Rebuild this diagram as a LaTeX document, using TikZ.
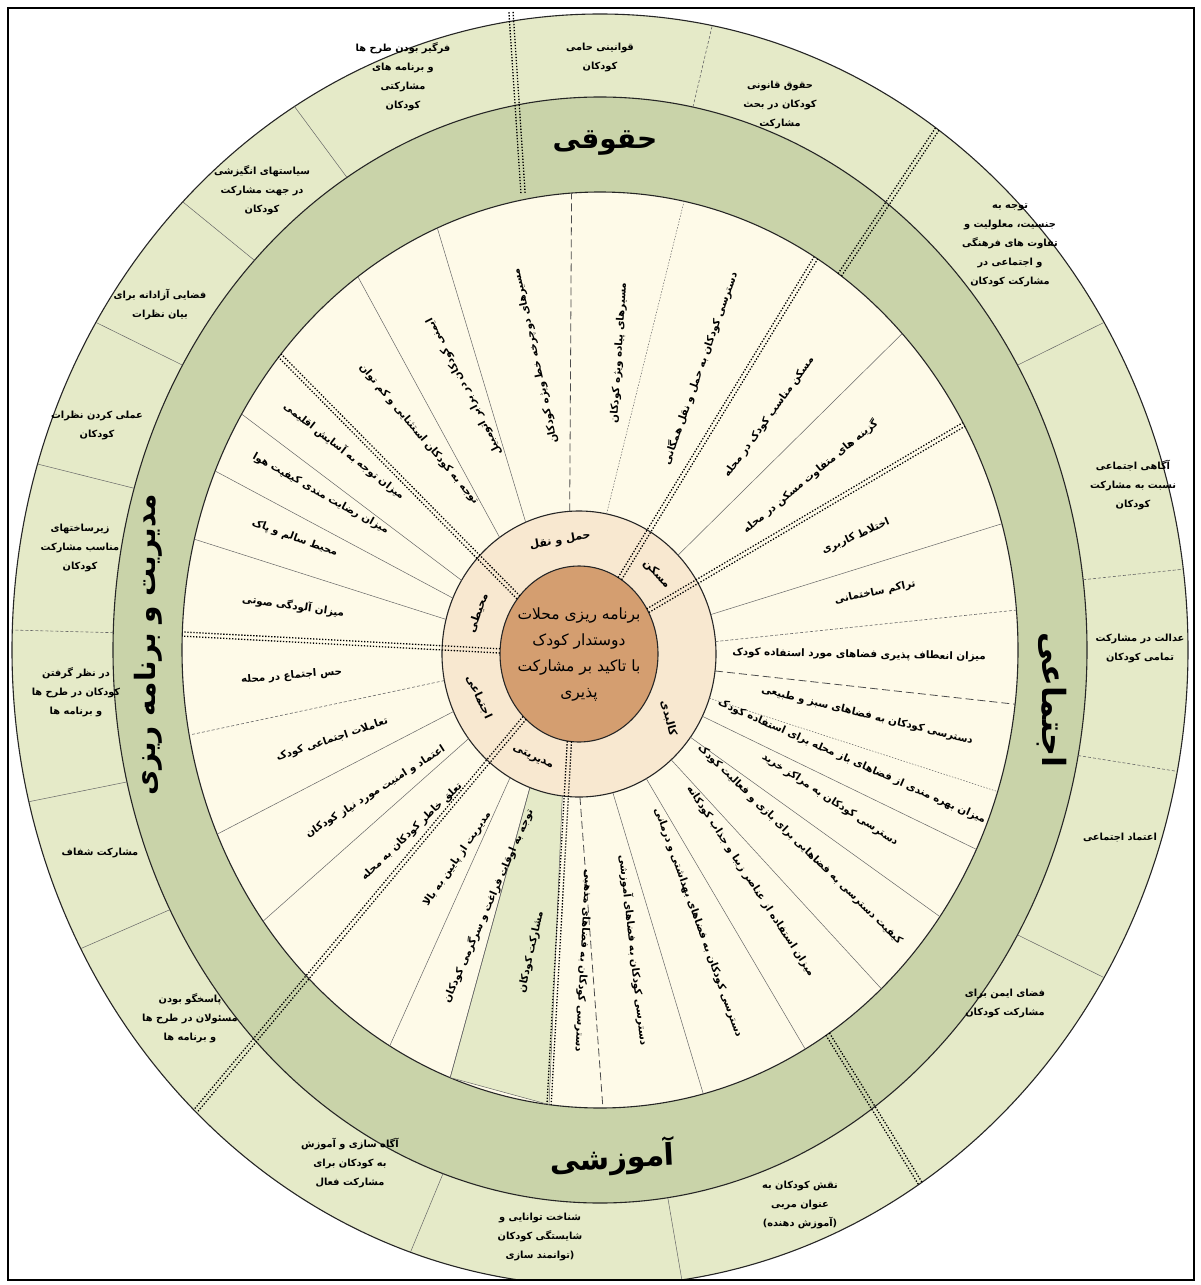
\documentclass[tikz,border=0pt]{standalone}
\usepackage{fontspec}
\usetikzlibrary{calc}
\TeXXeTstate=1
\newfontfamily\arabicfont[Script=Arabic]{DejaVu Sans}
\newcommand{\fa}[1]{{\arabicfont #1}}
\definecolor{outerg}{HTML}{E5EAC8}
\definecolor{darkg}{HTML}{C9D3A9}
\definecolor{creamc}{HTML}{FEFAE8}
\definecolor{tanr}{HTML}{F8E8D0}
\definecolor{brownc}{HTML}{D49E70}
\tikzset{
 ringedge/.style={draw=black!85, line width=1.1pt},
 thinline/.style={draw=black!60, line width=0.5pt},
 dashline/.style={draw=black!60, line width=0.6pt, dash pattern=on 3pt off 2pt},
 longdash/.style={draw=black!70, line width=0.8pt, dash pattern=on 8pt off 4pt},
 fineline/.style={draw=black!60, line width=0.5pt, dash pattern=on 1.5pt off 1.5pt},
 ddot/.style={draw=black, line width=1.3pt, dash pattern=on 1.3pt off 1.7pt},
 ctxt/.style={font=\bfseries\fontsize{10.3}{12}\selectfont, inner sep=0pt},
 otxt/.style={font=\bfseries\fontsize{9.8}{19}\selectfont, align=center, inner sep=0pt},
 biglabel/.style={font=\bfseries\fontsize{28}{30}\selectfont, inner sep=0pt},
 tanlabel/.style={font=\bfseries\fontsize{11}{12}\selectfont, inner sep=0pt},
 centertxt/.style={font=\fontsize{15.5}{26}\selectfont, align=center, inner sep=0pt},
}
\newcommand{\crl}[2]{\draw[#2] ($(Ci)+({137*cos(#1)},{143*sin(#1)})$) -- ($(C)+({418*cos(#1)},{458*sin(#1)})$);}
\newcommand{\orl}[2]{\draw[#2] ($(C)+({487*cos(#1)},{553*sin(#1)})$) -- ($(C)+({588*cos(#1)},{636*sin(#1)})$);}
\newcommand{\ddl}[2]{%
 \coordinate (ddA) at #1; \coordinate (ddB) at #2;
 \draw[ddot] ($(ddA)!2.1pt!90:(ddB)$) -- ($(ddB)!2.1pt!-90:(ddA)$);
 \draw[ddot] ($(ddA)!2.1pt!-90:(ddB)$) -- ($(ddB)!2.1pt!90:(ddA)$);}
\newcommand{\ddcat}[1]{\ddl{($(Ci)+({79*cos(#1)},{88*sin(#1)})$)}{($(C)+({418*cos(#1)},{458*sin(#1)})$)}}
\newcommand{\ct}[4]{%
 \pgfmathsetmacro\ctang{atan2(458*sin(#1),418*cos(#1))-180*#3}
 \node[ctxt, rotate=\ctang] at ($(C)+({#2*418*cos(#1)},{#2*458*sin(#1)})$) {\fa{#4}};}
\begin{document}
\begin{tikzpicture}[x=1pt,y=1pt]
\useasboundingbox (0,0) rectangle (1200,-1285);
\fill[white] (0,0) rectangle (1200,-1285);
\coordinate (C) at (600,-650);
\coordinate (Ci) at (579,-654);
\begin{scope}
\clip (8,-8) rectangle (1194,-1280);
\draw[ringedge, fill=outerg] (C) ellipse [x radius=588, y radius=636];
\draw[ringedge, fill=darkg] (C) ellipse [x radius=487, y radius=553];
\draw[ringedge, fill=creamc] (C) ellipse [x radius=418, y radius=458];
% green wedge
\draw[thinline, fill=outerg] ($(Ci)+({137*cos(249)},{143*sin(249)})$) -- ($(C)+({418*cos(249)},{458*sin(249)})$) -- ($(C)+({418*cos(263)},{458*sin(263)})$) -- ($(Ci)+({137*cos(263)},{143*sin(263)})$) -- cycle;
\draw[ringedge, fill=tanr] (Ci) ellipse [x radius=137, y radius=143];
\draw[ringedge, fill=brownc] (Ci) ellipse [x radius=79, y radius=88];
% outer ring dividers
\foreach \a/\s in {79/dashline, 31/thinline, 7.3/dashline, -11/dashline, -31/thinline, -82/thinline, -108.8/thinline, 208/thinline, 193.8/thinline, 178.2/dashline, 163/thinline, 149/thinline, 135.2/thinline, 121.3/thinline} {\orl{\a}{\s}}
% cream ring dividers
\foreach \a/\s in {93.9/longdash, 78.4/fineline, 43.7/thinline, 16/thinline, 5/dashline, -6.8/longdash, -18/fineline, -25.8/thinline, -35.6/thinline, -47.7/thinline, -60.6/thinline, -75.7/thinline, 270.4/longdash, 249/thinline, 239.8/thinline, 216.3/thinline, 203.7/thinline, 190.7/dashline, 166/thinline, 157/thinline, 149/thinline, 125.4/thinline, 112.9/thinline} {\crl{\a}{\s}}
% category double dotted lines
\ddcat{58.9}
\ddcat{29.5}
\ddcat{140}
\ddcat{178}
\ddcat{263}
\ddl{($(Ci)+({79*cos(226.5)},{88*sin(226.5)})$)}{($(C)+({588*cos(226.5)},{636*sin(226.5)})$)}
\ddl{($(C)+({418*cos(55)},{458*sin(55)})$)}{($(C)+({588*cos(55)},{636*sin(55)})$)}
\ddl{($(C)+({418*cos(-57)},{458*sin(-57)})$)}{($(C)+({588*cos(-57)},{636*sin(-57)})$)}
\ddl{(523,-193)}{(511,-12)}
\end{scope}
% cream ring texts
\ct{22}{0.66}{0}{\beginR اختلاط کاربری\endR}
\ct{10.8}{0.67}{0}{\beginR تراکم ساختمانی\endR}
\ct{-1}{0.62}{0}{\beginR میزان انعطاف پذیری فضاهای مورد استفاده کودک\endR}
\ct{-12.6}{0.655}{0}{\beginR دسترسی کودکان به فضاهای سبز و طبیعی\endR}
\ct{-22}{0.65}{0}{\beginR میزان بهره مندی از فضاهای باز محله برای استفاده کودک\endR}
\ct{-30.7}{0.64}{0}{\beginR دسترسی کودکان به مراکز خرید\endR}
\ct{-41.6}{0.64}{0}{\beginR کیفیت دسترسی به فضاهایی برای بازی و فعالیت کودک\endR}
\ct{-54.5}{0.62}{0}{\beginR میزان استفاده از عناصر زیبا و جذاب کودکانه\endR}
\ct{-68.5}{0.64}{0}{\beginR دسترسی کودکان به فضاهای بهداشتی و درمانی\endR}
\ct{-83}{0.66}{0}{\beginR دسترسی کودکان به فضاهای آموزشی\endR}
\ct{-93.4}{0.68}{0}{\beginR دسترسی کودکان به فضاهای مذهبی\endR}
\ct{37}{0.63}{0}{\beginR گزینه های متفاوت مسکن در محله\endR}
\ct{51.5}{0.65}{0}{\beginR مسکن مناسب کودک در محله\endR}
\ct{68.7}{0.66}{0}{\beginR دسترسی کودکان به حمل و نقل همگانی\endR}
\ct{86}{0.65}{0}{\beginR مسیرهای پیاده ویژه کودکان\endR}
\ct{103.5}{0.66}{0}{\beginR مسیرهای دوچرخه خط ویژه کودکان\endR}
\ct{119.5}{0.66}{0}{\beginR ایمنی کودکان در برابر اتومبیل\endR}
\ct{132.6}{0.64}{1}{\beginR توجه به کودکان استثنایی و کم توان\endR}
\ct{144.6}{0.75}{1}{\beginR میزان توجه به آسایش اقلیمی\endR}
\ct{153}{0.75}{1}{\beginR میزان رضایت مندی کیفیت هوا\endR}
\ct{161.5}{0.77}{1}{\beginR محیط سالم و پاک\endR}
\ct{172.5}{0.74}{1}{\beginR میزان آلودگی صوتی\endR}
\ct{184.4}{0.74}{1}{\beginR حس اجتماع در محله\endR}
\ct{197}{0.67}{1}{\beginR تعاملات اجتماعی کودک\endR}
\ct{210}{0.62}{1}{\beginR اعتماد و امنیت مورد نیاز کودکان\endR}
\ct{221.4}{0.6}{1}{\beginR تعلق خاطر کودکان به محله\endR}
\ct{233.2}{0.57}{1}{\beginR مدیریت از پایین به بالا\endR}
\ct{244.4}{0.62}{1}{\beginR توجه به اوقات فراغت و سرگرمی کودکان\endR}
\ct{256}{0.68}{1}{\beginR مشارکت کودکان\endR}
% tan ring labels
\node[tanlabel, rotate=10] (tl1) at ($(Ci)+({108*cos(100)},{115*sin(100)})$) {\fa{\beginR حمل و نقل\endR}};
\node[tanlabel, rotate=-48] (tl2) at ($(Ci)+({108*cos(44)},{115*sin(44)})$) {\fa{\beginR مسکن\endR}};
\node[tanlabel, rotate=-75] (tl3) at ($(Ci)+({108*cos(-34)},{115*sin(-34)})$) {\fa{\beginR کالبدی\endR}};
\node[tanlabel, rotate=-25] (tl4) at ($(Ci)+({108*cos(244.7)},{115*sin(244.7)})$) {\fa{\beginR مدیریتی\endR}};
\node[tanlabel, rotate=-65] (tl5) at ($(Ci)+({108*cos(202)},{115*sin(202)})$) {\fa{\beginR اجتماعی\endR}};
\node[tanlabel, rotate=70] (tl6) at ($(Ci)+({108*cos(159)},{115*sin(159)})$) {\fa{\beginR محیطی\endR}};
% center
\node[centertxt] (ctr) at (Ci) {\fa{\beginR برنامه ریزی محلات\endR}\\\fa{\beginR دوستدار کودک\endR}\\\fa{\beginR با تاکید بر مشارکت\endR}\\\fa{\beginR پذیری\endR}};
% dark ring labels
\node[biglabel] (bl1) at (605,-143) {\fa{\beginR حقوقی\endR}};
\node[biglabel, font=\bfseries\fontsize{32}{34}\selectfont, rotate=-90] (bl2) at (1052,-700) {\fa{\beginR اجتماعی\endR}};
\node[biglabel, font=\bfseries\fontsize{30}{32}\selectfont, rotate=3] (bl3) at (612,-1158) {\fa{\beginR آموزشی\endR}};
\node[biglabel, rotate=90] (bl4) at (148,-645) {\fa{\beginR مدیریت و برنامه ریزی\endR}};
% outer ring texts
\node[otxt] (o1) at (600,-57) {\fa{\beginR قوانینی حامی\endR}\\\fa{\beginR کودکان\endR}};
\node[otxt] (o2) at (780,-105) {\fa{\beginR حقوق قانونی\endR}\\\fa{\beginR کودکان در بحث\endR}\\\fa{\beginR مشارکت\endR}};
\node[otxt] (o3) at (1010,-245) {\fa{\beginR توجه به\endR}\\\fa{\beginR جنسیت، معلولیت و\endR}\\\fa{\beginR تفاوت های فرهنگی\endR}\\\fa{\beginR و اجتماعی در\endR}\\\fa{\beginR مشارکت کودکان\endR}};
\node[otxt] (o4) at (1133,-485) {\fa{\beginR آگاهی اجتماعی\endR}\\\fa{\beginR نسبت به مشارکت\endR}\\\fa{\beginR کودکان\endR}};
\node[otxt] (o5) at (1140,-648) {\fa{\beginR عدالت در مشارکت\endR}\\\fa{\beginR تمامی کودکان\endR}};
\node[otxt] (o6) at (1120,-838) {\fa{\beginR اعتماد اجتماعی\endR}};
\node[otxt] (o7) at (1005,-1003) {\fa{\beginR فضای ایمن برای\endR}\\\fa{\beginR مشارکت کودکان\endR}};
\node[otxt] (o8) at (800,-1205) {\fa{\beginR نقش کودکان به\endR}\\\fa{\beginR عنوان مربی\endR}\\\fa{\beginR (آموزش دهنده)\endR}};
\node[otxt] (o9) at (540,-1237) {\fa{\beginR شناخت توانایی و\endR}\\\fa{\beginR شایستگی کودکان\endR}\\\fa{\beginR (توانمند سازی\endR}};
\node[otxt] (o10) at (350,-1163) {\fa{\beginR آگاه سازی و آموزش\endR}\\\fa{\beginR به کودکان برای\endR}\\\fa{\beginR مشارکت فعال\endR}};
\node[otxt] (o11) at (190,-1018) {\fa{\beginR پاسخگو بودن\endR}\\\fa{\beginR مسئولان در طرح ها\endR}\\\fa{\beginR و برنامه ها\endR}};
\node[otxt] (o12) at (100,-853) {\fa{\beginR مشارکت شفاف\endR}};
\node[otxt] (o13) at (76,-692) {\fa{\beginR در نظر گرفتن\endR}\\\fa{\beginR کودکان در طرح ها\endR}\\\fa{\beginR و برنامه ها\endR}};
\node[otxt] (o14) at (80,-548) {\fa{\beginR زیرساختهای\endR}\\\fa{\beginR مناسب مشارکت\endR}\\\fa{\beginR کودکان\endR}};
\node[otxt] (o15) at (97,-425) {\fa{\beginR عملی کردن نظرات\endR}\\\fa{\beginR کودکان\endR}};
\node[otxt] (o16) at (160,-305) {\fa{\beginR فضایی آزادانه برای\endR}\\\fa{\beginR بیان نظرات\endR}};
\node[otxt] (o17) at (262,-190) {\fa{\beginR سیاستهای انگیزشی\endR}\\\fa{\beginR در جهت مشارکت\endR}\\\fa{\beginR کودکان\endR}};
\node[otxt] (o18) at (403,-77) {\fa{\beginR فرگیر بودن طرح ها\endR}\\\fa{\beginR و برنامه های\endR}\\\fa{\beginR مشارکتی\endR}\\\fa{\beginR کودکان\endR}};
% frame
\draw[line width=1.5pt] (8,-8) rectangle (1194,-1280);
\end{tikzpicture}
\end{document}
